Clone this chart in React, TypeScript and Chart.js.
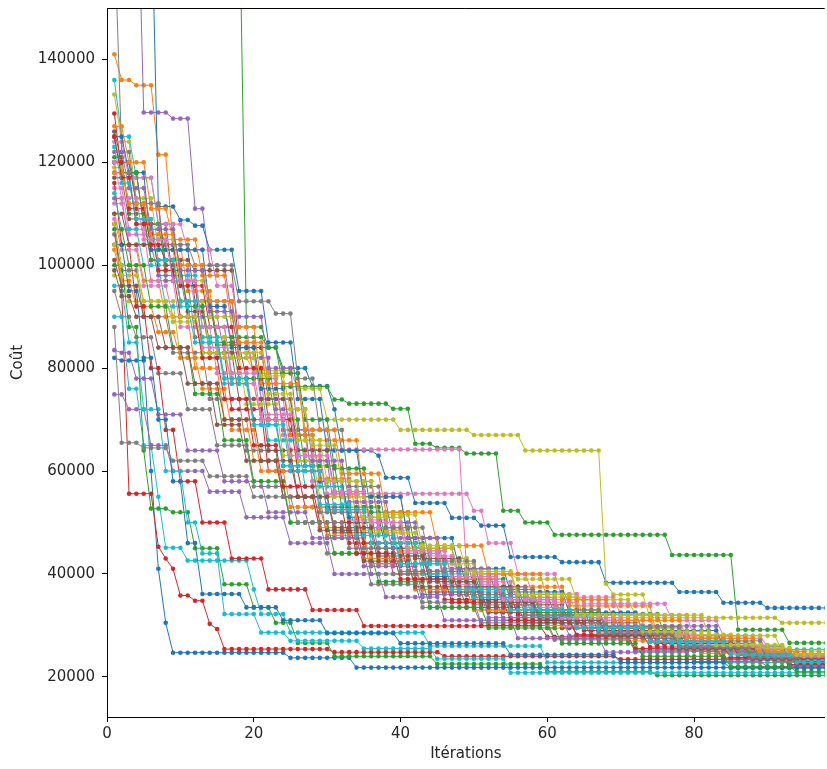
import React, { useEffect, useRef } from 'react';
import { Chart, registerables } from 'chart.js';

Chart.register(...registerables);

// Number of iterations plotted (x runs 1..98)
const ITERATIONS = 98;
const X_TICKS = [0, 20, 40, 60, 80];
const Y_TICKS = [20000, 40000, 60000, 80000, 100000, 120000, 140000];
const X_TITLE = 'Itérations';
const Y_TITLE = 'Coût';
const COLORS = ['#1f77b4', '#ff7f0e', '#2ca02c', '#d62728', '#9467bd', '#8c564b', '#e377c2', '#7f7f7f', '#bcbd22', '#17becf'];

// Each run: best cost so far, given as [iteration, cost] change points (cost holds until the next point)
const run00 = [[1,120000],[4,112000],[6,103000],[12,93000],[18,84000],[24,80000],[28,76500],[31,72000],[32,64000],[37,63000],[38,58700],[42,53800],[47,50900],[51,49400],[55,43300],[62,42300],[68,38300],[78,36500],[84,34400],[90,33400]];
const run01 = [[1,141000],[2,136000],[4,135000],[7,121500],[9,104000],[11,95000],[15,85000],[20,79000],[27,66000],[35,55000],[41,47000],[46,37500],[63,33800],[75,27500],[85,24600],[92,23800]];
const run02 = [[1,175000],[19,88000],[22,84000],[24,76400],[31,73900],[33,73100],[39,72100],[42,65300],[45,64500],[49,63400],[54,52300],[57,50000],[61,47600],[77,43700],[86,29150],[93,26600]];
const run03 = [[1,129500],[2,118000],[5,108000],[9,97000],[13,83000],[17,72000],[22,60000],[27,53000],[33,46000],[39,40000],[46,35000],[54,31000],[64,28000],[76,25500],[88,23300]];
const run04 = [[1,113000],[3,104000],[7,98000],[11,90000],[16,83000],[21,74000],[26,62000],[31,52000],[37,44000],[44,39000],[50,35400],[62,29900],[84,24800],[94,22600]];
const run05 = [[1,117000],[3,109000],[6,101000],[10,93000],[15,84500],[19,78000],[24,68000],[28,58000],[33,50000],[39,44000],[46,38500],[54,34000],[63,30500],[73,27500],[84,25000],[93,23500]];
const run06 = [[1,112000],[3,106000],[7,100000],[12,92000],[17,85000],[21,74000],[25,64200],[49,40800],[51,40000],[58,36100],[65,34200],[77,31000],[84,28000],[90,25800],[93,22200]];
const run07 = [[1,106000],[2,99000],[5,90000],[9,83000],[14,74000],[19,64000],[24,55000],[30,47000],[36,40000],[43,34500],[51,30500],[61,27500],[72,25200],[84,23500],[93,22400]];
const run08 = [[1,98000],[3,93000],[10,82000],[20,79500],[26,76000],[30,70000],[40,68000],[50,67000],[57,64000],[68,38100],[69,36000],[74,31500],[92,30500]];
const run09 = [[1,136000],[2,125000],[4,117000],[7,108000],[10,98000],[13,88000],[17,78000],[22,66000],[27,57000],[33,49000],[40,42000],[47,36500],[55,31500],[64,28000],[75,25300]];
const run10 = [[1,82000],[2,81500],[6,60000],[7,41000],[8,30500],[9,24700],[25,23700],[34,21800]];
const run11 = [[1,110000],[2,104000],[5,97000],[8,90000],[12,80000],[16,70000],[20,62000],[24,55000],[29,49000],[35,43000],[42,37000],[50,33000],[60,29500],[70,27000],[81,24600],[91,23000]];
const run12 = [[1,121000],[3,110000],[6,101000],[10,93000],[15,86000],[22,84000],[24,79000],[27,70000],[31,60500],[36,52000],[42,45000],[48,39000],[55,35000],[62,32200],[76,28000],[88,24200]];
const run13 = [[1,108000],[2,95000],[3,55600],[7,45300],[8,43000],[9,41000],[10,35800],[12,34800],[14,30300],[15,29300],[16,25400],[31,24800],[46,24000],[70,23400]];
const run14 = [[1,185000],[5,129700],[9,128500],[12,111000],[14,100000],[17,90000],[22,80000],[26,68000],[31,58000],[37,50000],[43,43000],[50,37500],[58,33000],[68,29500],[79,26500],[89,23800]];
const run15 = [[1,126000],[2,120000],[4,112000],[8,100000],[11,91000],[14,83000],[18,74000],[22,64000],[26,55000],[31,48000],[37,42000],[44,36500],[52,32500],[62,29500],[74,26800],[86,24200]];
const run16 = [[1,115000],[3,107000],[6,97000],[10,88000],[15,79000],[20,70000],[25,62000],[30,55600],[50,52300],[52,46000],[56,40000],[62,35500],[70,32000],[80,27500],[90,24300]];
const run17 = [[1,95000],[2,90000],[4,86000],[7,79000],[11,72000],[15,65000],[20,57000],[25,50000],[30,44000],[36,38000],[43,33500],[51,30000],[61,27200],[72,25000],[84,23300],[93,22200]];
const run18 = [[1,133200],[2,124000],[4,113000],[7,103000],[10,93000],[14,82000],[19,73000],[24,63000],[29,55000],[35,48500],[42,43000],[50,40000],[56,39000],[64,35000],[72,32000],[82,28000],[92,25000]];
const run19 = [[1,90000],[3,76000],[5,65000],[7,55000],[8,45100],[11,42600],[20,37000],[21,32200],[25,28600],[44,26000],[60,22800]];
const run20 = [[1,175000],[7,111400],[10,108800],[12,107700],[14,103000],[18,95000],[22,85000],[26,74000],[30,64000],[35,55000],[41,47000],[48,41000],[55,36500],[63,32500],[73,29000],[84,26000],[93,23500]];
const run21 = [[1,103000],[2,97000],[4,92000],[7,87000],[10,82000],[13,76000],[17,68000],[21,60000],[25,53000],[30,47500],[36,42000],[43,37000],[51,33000],[60,30000],[70,27500],[81,25000],[91,23400]];
const run22 = [[1,100000],[3,88000],[5,64000],[6,52700],[9,52000],[12,45000],[16,38000],[20,33500],[23,30500],[26,26600],[31,24000],[45,22500],[60,21000],[75,20300]];
const run23 = [[1,116000],[2,104000],[4,92000],[6,80000],[8,68000],[10,58000],[13,50000],[17,43000],[22,37000],[28,33000],[35,29900],[60,27800],[72,25500],[84,23700],[93,22400]];
const run24 = [[1,74900],[3,72000],[6,65000],[9,60000],[14,56000],[19,51000],[25,46000],[31,40000],[38,35500],[46,31000],[56,27500],[68,24800],[80,23000],[90,22000]];
const run25 = [[1,110000],[3,104000],[8,101000],[12,99000],[18,84000],[22,74000],[26,64000],[31,56000],[36,49000],[42,43000],[49,37500],[57,33000],[66,29500],[76,26500],[87,24000],[95,22700]];
const run26 = [[1,124000],[3,117000],[7,108000],[11,103000],[15,96000],[18,88000],[20,78000],[24,67000],[28,58000],[33,50500],[39,44000],[46,38000],[54,33500],[63,30000],[74,27000],[85,24600],[94,23000]];
const run27 = [[1,165000],[2,122000],[4,112000],[8,97000],[12,86000],[16,78000],[20,70000],[24,61000],[29,52000],[35,45000],[42,39000],[50,34000],[59,30500],[69,27500],[80,25000],[91,23000]];
const run28 = [[1,108000],[2,100000],[5,93000],[9,89000],[13,83000],[17,77000],[21,70000],[25,62000],[30,55000],[36,48000],[43,42000],[51,37000],[59,33000],[68,29500],[78,26800],[89,24300]];
const run29 = [[1,96000],[3,85000],[5,72000],[8,60000],[11,50000],[13,44000],[16,32200],[21,28600],[25,27000],[35,25500],[45,23500],[55,20800]];
const run30 = [[1,125000],[3,118000],[6,103000],[14,92000],[17,84000],[21,76000],[25,67000],[29,58000],[33,51000],[38,45000],[44,39500],[51,35000],[59,31500],[68,28500],[79,25800],[90,23600]];
const run31 = [[1,127000],[3,120000],[6,111000],[9,105000],[13,98000],[17,88000],[21,77000],[25,67000],[29,58500],[34,51000],[40,44500],[47,39000],[54,34500],[62,31000],[71,28000],[82,25500],[92,23800]];
const run32 = [[1,125000],[2,118000],[5,108000],[8,99000],[11,92000],[14,85000],[18,78000],[23,70000],[27,61000],[32,53000],[38,46000],[44,40500],[51,36000],[59,32500],[68,29000],[78,26000],[88,24000],[95,23000]];
const run33 = [[1,120000],[3,111000],[6,104000],[10,96000],[14,88000],[18,80000],[22,70000],[26,60000],[30,52500],[35,46000],[41,40500],[48,36000],[56,32000],[65,29000],[75,26500],[86,24300],[95,22900]];
const run34 = [[1,83500],[2,83000],[4,78000],[7,71000],[11,64000],[16,58000],[22,52000],[28,47000],[35,41500],[43,36000],[52,31500],[63,28000],[75,25500],[87,23500]];
const run35 = [[1,99000],[2,94000],[4,90000],[7,84000],[11,77000],[15,69000],[19,62000],[24,55000],[29,48500],[35,42500],[42,37500],[49,33500],[57,30500],[66,28000],[77,25500],[88,23500]];
const run36 = [[1,109000],[2,103000],[5,96000],[9,90000],[13,84000],[17,77000],[21,70000],[25,63000],[30,55500],[35,49000],[41,43500],[48,38500],[56,34500],[65,31000],[75,28000],[86,25500],[94,24200]];
const run37 = [[1,118000],[4,108000],[8,104000],[12,100000],[18,93000],[23,90600],[26,78000],[29,68000],[33,57000],[38,49000],[44,42500],[51,37000],[59,33000],[68,29800],[79,27000],[90,24500]];
const run38 = [[1,119000],[3,112000],[6,105000],[10,97000],[14,90000],[18,83000],[22,75000],[26,66000],[30,58000],[35,51000],[41,45000],[48,40000],[56,35500],[65,31500],[75,28200],[86,25600],[94,24400]];
const run39 = [[1,114000],[2,107000],[5,100000],[8,92000],[12,85000],[16,77000],[20,69000],[25,60000],[30,52500],[36,46000],[43,40000],[50,35500],[58,31800],[67,28800],[77,26200],[87,24200],[95,23300]];
const run40 = [[1,104000],[3,95000],[5,82000],[7,70000],[9,58000],[11,46000],[13,36100],[19,33500],[24,31000],[30,28500],[40,26500],[55,24300],[70,22800],[85,21700]];
const run41 = [[1,118000],[3,112000],[6,106000],[10,100000],[14,93000],[18,85000],[22,77000],[27,68000],[32,59500],[38,52000],[45,45500],[52,40000],[60,35000],[69,31000],[79,27500],[89,24900],[96,23900]];
const run42 = [[1,107000],[3,100000],[6,92000],[9,84000],[12,75000],[16,66000],[20,58000],[25,50000],[31,44000],[37,38500],[44,33500],[52,29500],[62,26500],[73,24000],[85,22000],[94,21000]];
const run43 = [[1,125000],[2,117000],[4,108000],[7,99000],[10,90000],[13,82000],[16,74000],[20,65000],[24,57000],[29,50000],[34,44000],[40,39000],[47,34500],[55,31000],[64,28200],[74,25800],[85,23800],[94,22600]];
const run44 = [[1,122000],[3,115000],[6,107000],[10,99000],[14,91000],[18,82000],[23,72000],[28,62000],[33,54000],[39,47000],[46,41000],[53,36000],[61,32000],[70,28800],[80,26000],[90,24000]];
const run45 = [[1,101000],[2,96000],[5,90000],[8,84000],[12,77000],[16,70000],[21,62000],[26,55000],[31,49000],[37,43500],[44,38500],[51,34500],[59,31000],[68,28200],[78,25600],[89,23600]];
const run46 = [[1,120000],[2,113000],[5,105000],[9,97000],[13,88000],[17,79000],[21,71000],[26,63000],[31,56000],[36,50000],[41,44500],[47,39500],[54,35000],[62,31500],[71,28500],[81,26000],[91,24000]];
const run47 = [[1,88000],[2,65500],[5,64500],[9,62000],[14,59000],[20,55000],[26,50000],[33,45000],[40,40500],[48,36000],[57,32000],[67,28500],[78,25800],[88,23800],[95,22800]];
const run48 = [[1,104000],[2,98000],[5,93000],[9,90000],[13,86000],[17,82000],[21,78500],[25,72000],[28,65000],[32,58000],[37,51500],[43,45500],[49,40500],[56,36000],[64,32000],[73,28800],[83,26200],[93,24300]];
const run49 = [[1,123000],[2,116000],[4,109000],[7,101000],[10,93000],[13,86000],[16,78000],[20,69000],[24,61000],[29,53500],[34,47500],[40,42000],[47,37000],[55,33000],[64,29500],[74,26800],[85,24300],[94,22800]];

const RUNS = [run00, run01, run02, run03, run04, run05, run06, run07, run08, run09,
  run10, run11, run12, run13, run14, run15, run16, run17, run18, run19,
  run20, run21, run22, run23, run24, run25, run26, run27, run28, run29,
  run30, run31, run32, run33, run34, run35, run36, run37, run38, run39,
  run40, run41, run42, run43, run44, run45, run46, run47, run48, run49];

function expand(changes: number[][]) {
  const pts: { x: number; y: number }[] = [];
  let k = 0;
  for (let it = 1; it <= ITERATIONS; it++) {
    while (k + 1 < changes.length && changes[k + 1][0] <= it) k++;
    pts.push({ x: it, y: changes[k][1] });
  }
  return pts;
}

const FONT = { family: '"DejaVu Sans", sans-serif', size: 15 };
const TEXT = '#262626';

const topSpine = {
  id: 'topSpine',
  afterDraw(chart: any) {
    const { ctx, chartArea } = chart;
    ctx.save();
    ctx.strokeStyle = '#000';
    ctx.lineWidth = 1;
    ctx.beginPath();
    ctx.moveTo(chartArea.left, chartArea.top + 0.5);
    ctx.lineTo(chartArea.right, chartArea.top + 0.5);
    ctx.stroke();
    ctx.restore();
  },
};

export default function App() {
  const ref = useRef<HTMLCanvasElement>(null);
  useEffect(() => {
    const n = RUNS.length;
    const chart = new Chart(ref.current as HTMLCanvasElement, {
      type: 'line',
      data: {
        datasets: RUNS.map((r, i) => ({
          label: 'run ' + (i + 1),
          data: expand(r),
          borderColor: COLORS[i % 10],
          backgroundColor: COLORS[i % 10],
          pointBackgroundColor: COLORS[i % 10],
          borderWidth: 1,
          pointRadius: 2.3,
          pointBorderWidth: 0,
          pointHoverRadius: 2.3,
          tension: 0,
          fill: false,
          order: n - i,
        })),
      },
      options: {
        animation: false,
        responsive: false,
        devicePixelRatio: 1,
        events: [],
        layout: { padding: { top: 8, right: 0, left: 0, bottom: 0 } },
        plugins: { legend: { display: false }, tooltip: { enabled: false } },
        scales: {
          x: {
            type: 'linear',
            min: 0,
            max: 97.8,
            afterBuildTicks: (s: any) => { s.ticks = X_TICKS.map((v) => ({ value: v })); },
            afterFit: (s: any) => { s.height = 52; s.paddingLeft = 0; s.paddingRight = 0; },
            grid: { drawOnChartArea: false, drawTicks: true, tickLength: 5, color: '#000' },
            border: { display: true, color: '#000', width: 1 },
            ticks: { font: FONT, color: TEXT, padding: 3, maxRotation: 0, autoSkip: false, callback: (v: any) => String(v) },
            title: { display: true, text: X_TITLE, font: FONT, color: TEXT, padding: { top: 0, bottom: 6 } },
          },
          y: {
            type: 'linear',
            min: 12200,
            max: 150000,
            afterBuildTicks: (s: any) => { s.ticks = Y_TICKS.map((v) => ({ value: v })); },
            afterFit: (s: any) => { s.width = 107; s.paddingTop = 0; s.paddingBottom = 0; },
            grid: { drawOnChartArea: false, drawTicks: true, tickLength: 5, color: '#000' },
            border: { display: true, color: '#000', width: 1 },
            ticks: { font: FONT, color: TEXT, padding: 7, autoSkip: false, callback: (v: any) => String(v) },
            title: { display: true, text: Y_TITLE, font: FONT, color: TEXT, padding: { top: 9, bottom: 0 } },
          },
        },
      },
      plugins: [topSpine],
    } as any);
    return () => chart.destroy();
  }, []);
  return (
    <div style={{ position: 'absolute', left: 0, top: 0, width: 827, height: 769, background: '#fff' }}>
      <canvas ref={ref} width={827} height={769} />
    </div>
  );
}
